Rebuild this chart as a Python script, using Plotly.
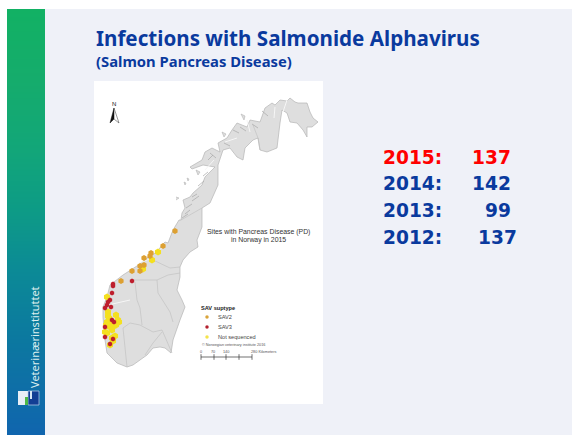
import plotly.graph_objects as go

# ---------- slide text ----------
TITLE = "Infections with Salmonide Alphavirus"
SUBTITLE = "(Salmon Pancreas Disease)"
YEARS = ["2015:", "2014:", "2013:", "2012:"]
COUNTS = ["137", "142", "99", "137"]
MAP_TITLE = ["Sites with Pancreas Disease (PD)", "in Norway in 2015"]
LEGEND_NAMES = ["SAV2", "SAV3", "Not sequenced"]

# ---------- map geometry (page pixels) ----------
norway_x = [181,182,185,183,190,193,202,205,215,203,192,190,202,205,212,220,218,227,232,237,247,250,260,265,272,275,280,
            287,290,295,298,307,310,313,318,312,307,307,303,297,290,287,282,280,277,267,260,258,253,245,243,237,230,223,
            218,218,210,202,202,197,198,190,183,180,180,177,182,185,180,175,173,171,165,160,153,147,133,127,117,107,105,
            103,103,107,110,123,133,140,148,157,162,165,168,173,179,181]
norway_y = [220,213,208,200,197,193,185,177,167,165,169,167,160,152,148,152,143,138,130,123,127,120,122,108,103,105,100,
            101,98,102,103,103,112,118,122,127,127,137,130,123,122,113,110,123,148,152,150,138,140,148,160,157,148,150,
            165,185,203,208,227,240,247,252,260,267,277,290,300,307,320,333,340,353,348,347,348,355,365,367,363,353,340,
            317,307,297,285,275,268,264,257,252,245,242,243,230,220,220]
county_x = [133,157,168,180,None,135,137,140,142,None,157,158,170,173,None,123,130,140,153,162,165,172,None,123,125,127,
            None,145,153,162,None,181,202,None,153,170,180,None,260,258,253]
county_y = [280,280,275,273,None,282,300,308,325,None,280,293,312,322,None,328,323,325,332,330,337,353,None,328,350,367,
            None,355,343,332,None,220,208,None,260,268,267,None,150,138,125]
fjord_x = [108,118,130,None,110,120,None,225,237,None,247,250,None,275,274,None,287,283,None,205,214,None,139,152,None,150,163]
fjord_y = [305,303,300,None,320,318,None,142,138,None,120,132,None,107,118,None,100,112,None,170,160,None,263,258,None,254,248]
island_x = [187,189,188,187,None,184,186,185,184,None,176,179,176,None,196,200,198,196,None,222,226,224,222,None,241,245,244,241]
island_y = [178,179,181,178,None,182,183,185,182,None,197,198,200,None,170,172,175,170,None,132,134,137,132,None,114,116,120,114]
skerry_x = [182,188,None,186,192,None,192,197,None,198,204,None,203,208,None,208,213,None,210,216,None,224,230,None,233,239,None,
            240,246,None,252,258,None,262,268,None,185,190,None,192,199]
skerry_y = [218,214,None,208,204,None,197,194,None,186,181,None,176,172,None,160,155,None,153,158,None,143,146,None,130,133,None,
            127,131,None,124,128,None,111,116,None,214,210,None,201,196]

sav2_x = [163,175,151,144,140,144,132,121,140,150]
sav2_y = [246,231,253,258,266,265,271,281,271,256]
sav3_x = [132,113,112,110,107,105,111,112,114,105,105,113,110,108,113]
sav3_y = [281,286,293,300,305,308,307,320,322,327,337,339,344,302,284]
none_x = [158,152,143,107,108,107,110,118,105,112,113,110,109,116,119,107,106,111,114,116,115,108,112]
none_y = [252,260,269,297,312,322,327,320,332,338,341,345,318,315,322,333,325,322,326,325,336,316,330]

legend_x = [207,207,207]
legend_y = [317,327,337]
LEGEND_COLOURS = ["#D9A43A", "#B3202E", "#F4E34A"]
scale_x = [201,214,226,239,252]

# ---------- sidebar gradient (page rows and colours) ----------
band_y = [9,80,150,210,270,340,435]
band_c = ["#12B164","#15AC6C","#12A679","#0D9B86","#0C8A96","#0C78A0","#1065AE"]

BLUE = "#0A3A9E"
fig = go.Figure()

# sidebar
n = len(band_y)-1
scale = [[i/n, c] for i, c in enumerate(band_c)]
fig.add_trace(go.Heatmap(x=[16.5,35.5], y=band_y, z=[[i,i] for i in range(n+1)], colorscale=scale,
                         showscale=False, zsmooth="best", hoverinfo="skip"))
# map
def line_trace(x, y, **kw):
    fig.add_trace(go.Scatter(x=x, y=y, mode="lines", hoverinfo="skip", showlegend=False, **kw))

line_trace(norway_x, norway_y, fill="toself", fillcolor="#DEDEDE", line=dict(color="#B5B5B5", width=0.7))
line_trace(island_x, island_y, fill="toself", fillcolor="#DEDEDE", line=dict(color="#B5B5B5", width=0.6))
line_trace(county_x, county_y, line=dict(color="#BDBDBD", width=0.6))
line_trace(skerry_x, skerry_y, line=dict(color="#A8A8A8", width=0.7))
line_trace(fjord_x, fjord_y, line=dict(color="#F6F6F6", width=1))
for xs, ys, col, size in [(none_x, none_y, "#F4E020", 7), (sav2_x, sav2_y, "#DDA032", 6), (sav3_x, sav3_y, "#BE1E2D", 5)]:
    fig.add_trace(go.Scatter(x=xs, y=ys, mode="markers", marker=dict(color=col, size=size, symbol="hexagon"),
                             showlegend=False, hoverinfo="skip"))
fig.add_trace(go.Scatter(x=legend_x, y=legend_y, mode="markers", marker=dict(color=LEGEND_COLOURS, size=3.5),
                         showlegend=False, hoverinfo="skip"))
# scale bar
line_trace([scale_x[0], scale_x[-1]], [357,357], line=dict(color="#333", width=0.7))
fig.add_trace(go.Scatter(x=scale_x, y=[357]*5, mode="markers",
                         marker=dict(symbol="line-ns", size=4, color="#333", line=dict(width=0.7, color="#333")),
                         showlegend=False, hoverinfo="skip"))
# north arrow
line_trace([114,110,114,114], [108,123,119,108], fill="toself", fillcolor="#111", line=dict(color="#111", width=0.5))
line_trace([114,119,114], [108,123,119], line=dict(color="#333", width=0.5))

shapes = [
    dict(type="rect", layer="below", x0=7, x1=572, y0=9, y1=435, fillcolor="#EFF1F8", line_width=0),
    dict(type="rect", layer="below", x0=94, x1=323, y0=81, y1=404, fillcolor="#FFFFFF", line_width=0),
    dict(type="rect", layer="above", x0=0, x1=572, y0=0, y1=9, fillcolor="#FFFFFF", line_width=0),
    # logo
    dict(type="rect", layer="above", x0=18, x1=28, y0=391, y1=405, fillcolor="#E8EEF6", line_width=0),
    dict(type="rect", layer="above", x0=28, x1=39, y0=391, y1=405, fillcolor="#123F94", line=dict(color="#BFD2EE", width=0.7)),
    dict(type="rect", layer="above", x0=25, x1=28, y0=397, y1=405, fillcolor="#4DB848", line_width=0),
    dict(type="rect", layer="above", x0=30, x1=32, y0=391, y1=399, fillcolor="#D8E8F4", line_width=0),
]

def t(x, y, s, size, color="#222", bold=False, anchor="left", font="Noto Sans", angle=0):
    return dict(x=x, y=y, xref="x", yref="y", text=f"<b>{s}</b>" if bold else s, showarrow=False, xanchor=anchor,
                yanchor="middle", textangle=angle, font=dict(size=size, color=color, family=font))

ann = [
    t(94, 38, TITLE, 20.6, BLUE, True),
    t(94, 61, SUBTITLE, 14.8, BLUE, True),
    t(34, 337, "Veterinærinstituttet", 11, "#DDEFF0", angle=-90, anchor="center"),
    t(114, 104, "N", 6, "#111", anchor="center", font="Liberation Sans"),
]
year_y = [157, 183, 210, 237]
count_right = [513, 513, 513, 519]
for i, (yr, ct) in enumerate(zip(YEARS, COUNTS)):
    c = "#FF0000" if i == 0 else BLUE
    ann.append(t(381, year_y[i], yr, 18.6, c, True, font="DejaVu Sans"))
    ann.append(t(count_right[i], year_y[i], ct, 18.6, c, True, anchor="right", font="DejaVu Sans"))
ann.append(t(258, 232, MAP_TITLE[0], 6.9, "#333", anchor="center", font="Liberation Sans"))
ann.append(t(258, 240, MAP_TITLE[1], 6.9, "#333", anchor="center", font="Liberation Sans"))
ann.append(t(199, 308, "SAV suptype", 5.6, "#222", True, font="Liberation Sans"))
for name, yy in zip(LEGEND_NAMES, legend_y):
    ann.append(t(216, yy, name, 5.6, "#444", font="Liberation Sans"))
ann.append(t(200, 345, "© Norwegian veterinary institute 2016", 3.8, "#555", font="Liberation Sans"))
for lab, xx in zip(["0", "70", "140", "280 Kilometers"], [201, 213, 226, 249]):
    ann.append(t(xx, 352, lab, 3.8, "#555", anchor="left" if len(lab) > 3 else "center", font="Liberation Sans"))

axis = dict(visible=False, fixedrange=True)
fig.update_layout(width=572, height=435, autosize=False, margin=dict(l=0, r=0, t=0, b=0),
                  paper_bgcolor="white", plot_bgcolor="white", showlegend=False,
                  xaxis=dict(range=[0,572], **axis), yaxis=dict(range=[435,0], **axis),
                  shapes=shapes, annotations=ann)
fig.write_html("out.html", config=dict(displayModeBar=False),
               post_script="document.body.style.margin='0';document.body.style.overflow='hidden';")
